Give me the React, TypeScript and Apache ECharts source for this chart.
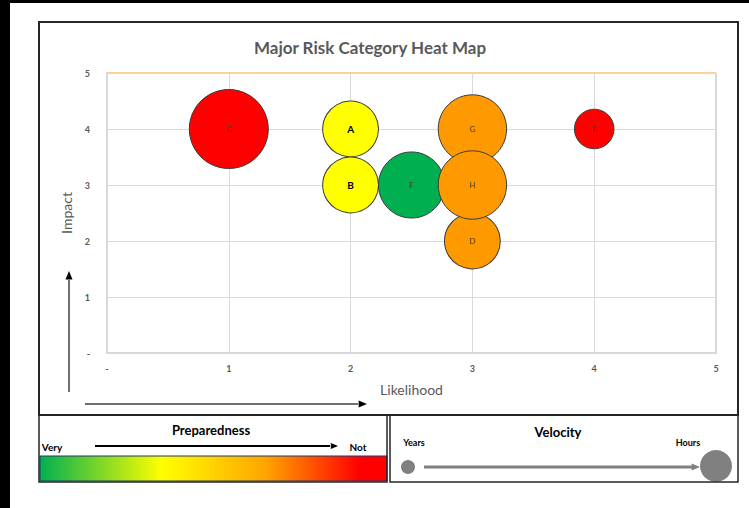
import React, { useEffect, useRef } from "react";
import * as echarts from "echarts";

const riskNames = ["A", "B", "C", "D", "E", "F", "G", "H"];
const likelihood = [2, 2, 1, 3, 4, 2.5, 3, 3];
const impact = [4, 3, 4, 2, 4, 3, 4, 3];
const velocity = [2, 2, 4, 2, 1, 2.8, 3, 3];
const preparedness = ["yellow", "yellow", "red", "orange", "red", "green", "orange", "orange"];
const axisTicks = [0, 1, 2, 3, 4, 5];

const prepColors: Record<string, string> = {
  green: "#00B050",
  yellow: "#FFFF00",
  orange: "#FF9900",
  red: "#FF0000",
};

const FONT = "Lato, 'Open Sans', sans-serif";

function arrowHead(x: number, y: number, dir: "up" | "right", size: number, color: string) {
  const pts =
    dir === "up"
      ? [[x, y], [x - size / 2, y + size * 1.2], [x + size / 2, y + size * 1.2]]
      : [[x, y], [x - size * 1.2, y - size / 2], [x - size * 1.2, y + size / 2]];
  return { type: "polygon", shape: { points: pts }, style: { fill: color }, z: 10 };
}

export default function App() {
  const ref = useRef<HTMLDivElement>(null);
  useEffect(() => {
    if (!ref.current) return;
    const chart = echarts.init(ref.current, undefined, { renderer: "svg" });
    const data = riskNames.map((n, i) => {
      const dark = n === "A" || n === "B";
      return {
        name: n,
        value: [likelihood[i], impact[i], velocity[i]],
        itemStyle: { color: prepColors[preparedness[i]], opacity: 1 },
        label: {
          color: dark ? "#000000" : "#4a3a30",
          fontWeight: dark ? "bold" : "normal",
          fontSize: dark ? 10 : 8,
        },
      };
    });
    const option: any = {
      animation: false,
      backgroundColor: "#ffffff",
      grid: {
        left: 107,
        right: 33,
        top: 73,
        bottom: 155,
        show: true,
        borderColor: "#F5A03A",
        borderWidth: 1,
        backgroundColor: "transparent",
      },
      xAxis: {
        type: "value",
        min: axisTicks[0],
        max: axisTicks[axisTicks.length - 1],
        interval: 1,
        name: "Likelihood",
        nameLocation: "middle",
        nameGap: 29,
        nameTextStyle: { color: "#595959", fontSize: 14, fontFamily: FONT },
        axisLine: { show: true, lineStyle: { color: "#d9d9d9", width: 2 } },
        axisTick: { show: false },
        splitLine: { show: true, lineStyle: { color: "#d9d9d9", width: 1 } },
        axisLabel: {
          color: "#595959",
          fontSize: 9,
          fontWeight: "bold",
          fontFamily: FONT,
          margin: 11,
          formatter: (v: number) => (v === 0 ? "-" : String(v)),
        },
      },
      yAxis: {
        type: "value",
        min: axisTicks[0],
        max: axisTicks[axisTicks.length - 1],
        interval: 1,
        name: "Impact",
        nameLocation: "middle",
        nameRotate: 90,
        nameGap: 32,
        nameTextStyle: { color: "#595959", fontSize: 14, fontFamily: FONT },
        axisLine: { show: true, lineStyle: { color: "#d9d9d9", width: 2 } },
        axisTick: { show: false },
        splitLine: { show: true, lineStyle: { color: "#d9d9d9", width: 1 } },
        axisLabel: {
          color: "#595959",
          fontSize: 9,
          fontWeight: "bold",
          fontFamily: FONT,
          margin: 17,
          formatter: (v: number) => (v === 0 ? "-" : String(v)),
        },
      },
      series: [
        {
          type: "scatter",
          data,
          symbolSize: (val: number[]) => 39.5 * Math.sqrt(val[2]),
          itemStyle: { borderColor: "#3a3a3a", borderWidth: 1, opacity: 1 },
          label: {
            show: true,
            position: "inside",
            formatter: (p: any) => p.name,
            fontFamily: FONT,
          },
          z: 5,
        },
      ],
      graphic: [
        { type: "rect", shape: { x: 0, y: 0, width: 10, height: 508 }, style: { fill: "#000" }, z: 20 },
        { type: "rect", shape: { x: 0, y: 0, width: 749, height: 3 }, style: { fill: "#000" }, z: 20 },
        {
          type: "rect",
          shape: { x: 39, y: 22, width: 699, height: 393 },
          style: { fill: "none", stroke: "#262626", lineWidth: 2 },
          z: 20,
        },
        {
          type: "rect",
          shape: { x: 39, y: 415, width: 348, height: 67 },
          style: { fill: "none", stroke: "#262626", lineWidth: 1.5 },
          z: 20,
        },
        {
          type: "rect",
          shape: { x: 390, y: 415, width: 348, height: 67 },
          style: { fill: "none", stroke: "#262626", lineWidth: 1.5 },
          z: 20,
        },
        {
          type: "text",
          x: 370,
          y: 47,
          style: {
            text: "Major Risk Category Heat Map",
            fill: "#595959",
            font: `bold 17px ${FONT}`,
            align: "center",
            verticalAlign: "middle",
          },
        },
        // Impact arrow
        { type: "line", shape: { x1: 69, y1: 392, x2: 69, y2: 280 }, style: { stroke: "#404040", lineWidth: 1.5 } },
        arrowHead(69, 271, "up", 7, "#000"),
        // Likelihood arrow
        { type: "line", shape: { x1: 85, y1: 404, x2: 358, y2: 404 }, style: { stroke: "#404040", lineWidth: 1.5 } },
        arrowHead(367, 404, "right", 7, "#000"),
        // Preparedness legend
        {
          type: "text",
          x: 211,
          y: 430,
          style: { text: "Preparedness", fill: "#000", font: `bold 13px ${FONT}`, align: "center", verticalAlign: "middle" },
        },
        {
          type: "text",
          x: 52,
          y: 447,
          style: { text: "Very", fill: "#000", font: `bold 10px ${FONT}`, align: "center", verticalAlign: "middle" },
        },
        {
          type: "text",
          x: 358,
          y: 447,
          style: { text: "Not", fill: "#000", font: `bold 10px ${FONT}`, align: "center", verticalAlign: "middle" },
        },
        { type: "line", shape: { x1: 95, y1: 446, x2: 330, y2: 446 }, style: { stroke: "#000", lineWidth: 2 } },
        arrowHead(338, 446, "right", 6, "#000"),
        {
          type: "rect",
          shape: { x: 40, y: 456, width: 347, height: 25 },
          style: {
            fill: new echarts.graphic.LinearGradient(0, 0, 1, 0, [
              { offset: 0, color: "#00B050" },
              { offset: 0.35, color: "#FFFF00" },
              { offset: 0.65, color: "#FFA500" },
              { offset: 0.92, color: "#FF0000" },
              { offset: 1, color: "#FF0000" },
            ]),
            stroke: "#1f3864",
            lineWidth: 1,
          },
        },
        // Velocity legend
        {
          type: "text",
          x: 558,
          y: 432,
          style: { text: "Velocity", fill: "#000", font: `bold 13px ${FONT}`, align: "center", verticalAlign: "middle" },
        },
        {
          type: "text",
          x: 414,
          y: 442,
          style: { text: "Years", fill: "#000", font: `bold 9px ${FONT}`, align: "center", verticalAlign: "middle" },
        },
        {
          type: "text",
          x: 688,
          y: 442,
          style: { text: "Hours", fill: "#000", font: `bold 9px ${FONT}`, align: "center", verticalAlign: "middle" },
        },
        { type: "circle", shape: { cx: 408, cy: 467, r: 7 }, style: { fill: "#808080" } },
        { type: "line", shape: { x1: 424, y1: 467, x2: 692, y2: 467 }, style: { stroke: "#808080", lineWidth: 3 } },
        arrowHead(700, 467, "right", 7, "#808080"),
        { type: "circle", shape: { cx: 716, cy: 466, r: 16 }, style: { fill: "#808080" } },
      ],
    };
    chart.setOption(option);
    return () => chart.dispose();
  }, []);
  return (
    <div
      ref={ref}
      style={{ position: "absolute", left: 0, top: 0, width: 749, height: 508 }}
    />
  );
}
